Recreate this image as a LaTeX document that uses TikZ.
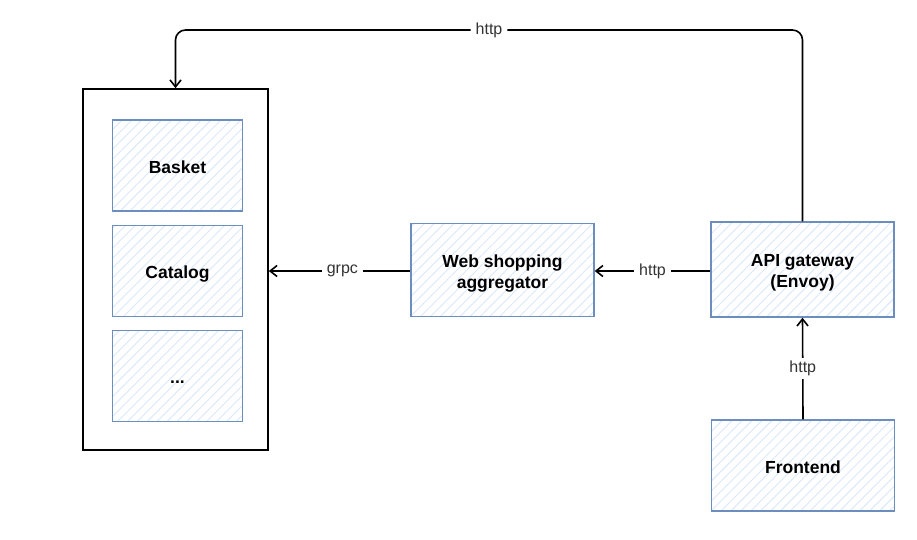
\documentclass[tikz,border=0pt]{standalone}
\usepackage{fontspec}
\setmainfont{Liberation Sans}
\usetikzlibrary{arrows.meta,positioning,patterns.meta}
\definecolor{boxline}{HTML}{6C8EBF}
\definecolor{boxhatch}{HTML}{DAE8FC}
\begin{document}
\begin{tikzpicture}
        [
            x = 1pt, y = -1pt,
            > = {Straight Barb[length=7pt,width=11pt]},
            svc/.style = {
                draw=boxline, line width=1.4pt, preaction={fill=white},
                pattern={Lines[angle=45, distance=7pt, line width=0.9pt]},
                pattern color=boxhatch,
                minimum width=130pt, minimum height=91pt, align=center,
                text height=15pt, text depth=0pt,
                font=\fontsize{17.5}{21}\selectfont\bfseries},
            wide/.style = {svc, minimum width=183pt, minimum height=93pt},
            twoline/.style = {text height=36pt},
            proto/.style = {fill=white, inner xsep=5pt, inner ysep=3pt, text=black!80,
                font=\fontsize{16}{19}\selectfont},
            link/.style = {->, line width=1.6pt}
        ]
        \useasboundingbox (0,0) rectangle (917,539);
        \node [draw, line width=1.6pt, minimum width=185pt, minimum height=361pt] (Services) at (175.5,269.5) {};
        \node [svc] (Basket) at (177.5,165.5) {Basket};
        \node [svc] (Catalog) at (177.5,271) {Catalog};
        \node [svc] (More) at (177.5,376) {...};
        \node [wide, twoline] (Aggr) at (502.5,270) {Web shopping\\aggregator};
        \node [wide, twoline, minimum height=95pt] (Gateway) at (802.5,269.5) {API gateway\\(Envoy)};
        \node [wide, minimum height=91pt] (Frontend) at (803,465.5) {Frontend};
        \coordinate (TopR) at (Gateway.north |- 0,30);
        \coordinate (TopL) at (Services.north |- 0,30);
        \draw [link, rounded corners=10pt] (Gateway.north) -- (TopR) -- node [proto] {http} (TopL) -- (Services.north);
        \draw [link] (Gateway.west |- 0,271) -- node [proto, pos=0.5] {http} (Aggr.east |- 0,271);
        \draw [link] (Aggr.west |- 0,271) -- node [proto, pos=0.48] {grpc} (Services.east |- 0,271);
        \draw [link] (Frontend.north) -- node [proto] {http} (Gateway.south);
    \end{tikzpicture}
\end{document}
